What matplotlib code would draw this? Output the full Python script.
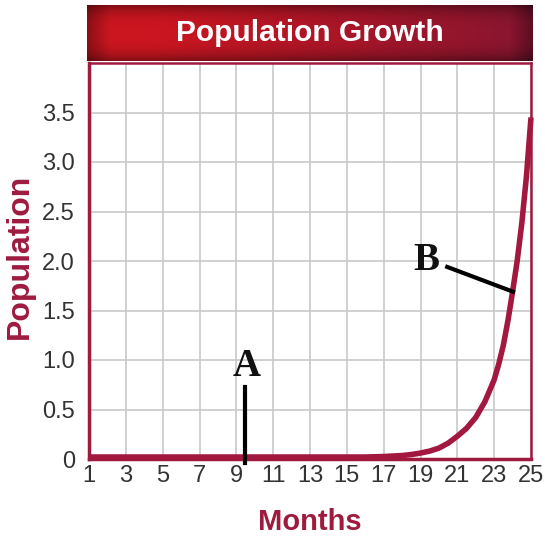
import numpy as np
import matplotlib
matplotlib.use("Agg")
from matplotlib import pyplot as plt
from matplotlib.colors import to_rgb

# data
months = [1, 2, 3, 4, 5, 6, 7, 8, 9, 10, 11, 12, 13, 14, 15, 16, 17,
          18, 18.5, 19, 19.5, 20, 20.5, 21, 21.5, 22, 22.5, 23, 23.25, 23.5,
          23.75, 24, 24.25, 24.5, 24.75, 25]
population = [0.02, 0.02, 0.02, 0.02, 0.02, 0.02, 0.02, 0.02, 0.02, 0.02,
              0.02, 0.02, 0.02, 0.02, 0.02, 0.02, 0.025,
              0.035, 0.045, 0.06, 0.08, 0.11, 0.16, 0.23, 0.31, 0.42, 0.58,
              0.8, 0.96, 1.15, 1.4, 1.69, 2.0, 2.38, 2.85, 3.45]
x_ticks = list(range(1, 26, 2))
y_ticks = [0, 0.5, 1.0, 1.5, 2.0, 2.5, 3.0, 3.5]
y_tick_labels = ["0", "0.5", "1.0", "1.5", "2.0", "2.5", "3.0", "3.5"]

# annotation positions (month, population)
label_a = (9.55, 0.93)
line_a = ([9.47, 9.47], [0.73, -0.04])
label_b = (19.3, 2.0)
line_b = ([20.45, 24.02], [1.94, 1.69])

CRIMSON = "#9e1b3e"
CURVE = "#a3183f"
FONT = "Liberation Sans"

fig = plt.figure(figsize=(5.45, 5.45), dpi=100)
W = H = 545.0


def px_box(x0, y0, x1, y1):
    return [x0 / W, 1 - y1 / H, (x1 - x0) / W, (y1 - y0) / H]


# title banner with gradient
bax = fig.add_axes(px_box(87, 5, 533, 61))
left_c = np.array(to_rgb("#cc1620"))
right_c = np.array(to_rgb("#861530"))
nx, ny = 200, 40
t = np.linspace(0, 1, nx)
horiz = np.clip((t - 0.15) / 0.85, 0, 1)[None, :, None]
grad = left_c * (1 - horiz) + right_c * horiz
grad = np.repeat(grad, ny, axis=0)
v = np.linspace(-1, 1, ny)
shade = (1 - 0.35 * np.abs(v) ** 3)[:, None, None]
edge = (1 - 0.3 * np.clip((np.abs(np.linspace(-1, 1, nx)) - 0.9) / 0.1, 0, 1))[None, :, None]
bax.imshow(grad * shade * edge, aspect="auto", extent=[0, 1, 0, 1])
bax.set_axis_off()
bax.text(0.5, 0.5, "Population Growth", color="white", fontsize=21.5,
         fontweight="bold", family=FONT, ha="center", va="center",
         transform=bax.transAxes)

ax = fig.add_axes(px_box(89, 63, 531, 459))
ax.plot(months, population, color=CURVE, lw=4, solid_capstyle="butt",
        solid_joinstyle="round", zorder=3, clip_on=False)

ax.set_xlim(1, 25)
ax.set_ylim(0, 4.0)
ax.set_xticks(x_ticks)
ax.set_xticklabels([str(m) for m in x_ticks])
ax.set_yticks(y_ticks)
ax.set_yticklabels(y_tick_labels)
ax.grid(True, color="#c8c8c8", lw=1.2, zorder=0)
ax.tick_params(length=0, labelsize=17, labelcolor="#333333")
ax.tick_params(axis="y", pad=10)
ax.tick_params(axis="x", pad=4)
for lab in ax.get_xticklabels() + ax.get_yticklabels():
    lab.set_family(FONT)

for side in ["left", "bottom"]:
    ax.spines[side].set_color(CRIMSON)
    ax.spines[side].set_linewidth(2.5)
for side in ["right", "top"]:
    ax.spines[side].set_color(CRIMSON)
    ax.spines[side].set_linewidth(1.8)

# annotations
ax.text(*label_a, "A", family="Liberation Serif", fontweight="bold",
        fontsize=28, ha="center", va="center", color="#111111", zorder=5)
ax.plot(*line_a, color="black", lw=3, clip_on=False, zorder=5)
ax.text(*label_b, "B", family="Liberation Serif", fontweight="bold",
        fontsize=28, ha="center", va="center", color="#111111", zorder=5)
ax.plot(*line_b, color="black", lw=3, clip_on=False, zorder=5)

fig.text(20 / W, 1 - 256 / H, "Population", rotation=90, color=CRIMSON,
         fontsize=23, fontweight="bold", family=FONT, ha="center", va="center")
fig.text(310 / W, 1 - 522 / H, "Months", color=CRIMSON, fontsize=21,
         fontweight="bold", family=FONT, ha="center", va="center")

fig.savefig("out.png", dpi=100, facecolor="white")
